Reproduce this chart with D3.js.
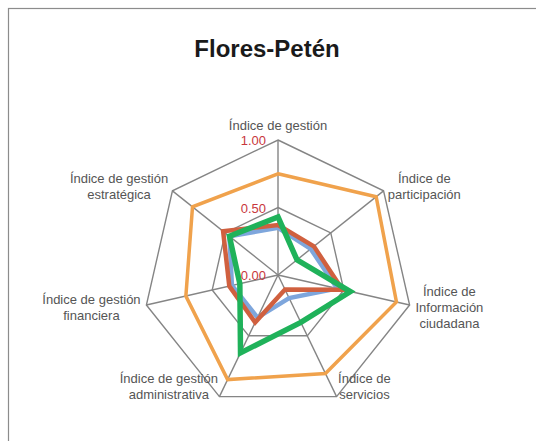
<!DOCTYPE html>
<html>
<head>
<meta charset="utf-8">
<script src="https://cdn.jsdelivr.net/npm/d3@7"></script>
<style>
  body { margin: 0; background: #fff; }
  text { font-family: "Liberation Sans", Arial, sans-serif; }
</style>
</head>
<body>
<div id="chart"></div>
<script>
// Axes of the radar, clockwise from the top
var axes = [
    ["Índice de gestión"],
    ["Índice de", "participación"],
    ["Índice de", "Información", "ciudadana"],
    ["Índice de", "servicios"],
    ["Índice de gestión", "administrativa"],
    ["Índice de gestión", "financiera"],
    ["Índice de gestión", "estratégica"]
];

// Series values, same order as the axes
var serie_azul    = [0.35, 0.31, 0.45, 0.19, 0.35, 0.35, 0.46];
var serie_roja    = [0.37, 0.34, 0.49, 0.12, 0.39, 0.37, 0.52];
var serie_naranja = [0.75, 0.93, 0.90, 0.81, 0.86, 0.70, 0.81];
var serie_verde   = [0.43, 0.18, 0.55, 0.39, 0.64, 0.29, 0.46];

var tick_values = [0, 0.5, 1];
var title = "Flores-Petén";

var width = 536,
    height = 441,
    cx = 278,
    cy = 275,
    radius = 135;

var series = [
    { values: serie_azul,    color: "#7ea6dc", width: 4.5 },
    { values: serie_roja,    color: "#d0603f", width: 4.5 },
    { values: serie_naranja, color: "#f0a24c", width: 3.5 },
    { values: serie_verde,   color: "#1fb25a", width: 5.5 }
];

var svg = d3.select("#chart").append("svg")
    .attr("width", width)
    .attr("height", height);

//Outer frame (only top and left visible)
svg.append("rect")
    .attr("x", 8.5)
    .attr("y", 8.5)
    .attr("width", width + 20)
    .attr("height", height + 20)
    .attr("fill", "none")
    .attr("stroke", "#8c8c8c")
    .attr("stroke-width", 1.2);

svg.append("text")
    .attr("x", width / 2 - 1)
    .attr("y", 57)
    .attr("text-anchor", "middle")
    .style("font-size", "24px")
    .style("font-weight", "bold")
    .style("fill", "#1a1a1a")
    .text(title);

var r = d3.scaleLinear().domain([0, 1]).range([0, radius]);
var angle = d3.scaleLinear().domain([0, axes.length]).range([0, 2 * Math.PI]);

function point(i, v) {
    var a = angle(i);
    return [cx + r(v) * Math.sin(a), cy - r(v) * Math.cos(a)];
}

var g = svg.append("g");

//Rings
tick_values.filter(function(t) { return t > 0; }).forEach(function(t) {
    g.append("polygon")
        .attr("points", axes.map(function(d, i) { return point(i, t).join(","); }).join(" "))
        .attr("fill", "none")
        .attr("stroke", "#858585")
        .attr("stroke-width", 1.4);
});

//Spokes
g.selectAll(".spoke")
    .data(axes)
    .enter().append("line")
    .attr("class", "spoke")
    .attr("x1", cx)
    .attr("y1", cy)
    .attr("x2", function(d, i) { return point(i, 1)[0]; })
    .attr("y2", function(d, i) { return point(i, 1)[1]; })
    .attr("stroke", "#858585")
    .attr("stroke-width", 1.4);

//Series
var line = d3.line()
    .x(function(d, i) { return point(i, d)[0]; })
    .y(function(d, i) { return point(i, d)[1]; })
    .curve(d3.curveLinearClosed);

series.forEach(function(s) {
    svg.append("path")
        .attr("d", line(s.values))
        .attr("fill", "none")
        .attr("stroke", s.color)
        .attr("stroke-width", s.width)
        .attr("stroke-linejoin", "miter");
});

//Tick labels on the first axis
svg.selectAll(".tick-label")
    .data(tick_values)
    .enter().append("text")
    .attr("class", "tick-label")
    .attr("x", cx - 12)
    .attr("y", function(d) { return cy - r(d) + 5; })
    .attr("text-anchor", "end")
    .style("font-size", "13px")
    .style("fill", "#c8373c")
    .text(function(d) { return d3.format(".2f")(d); });

//Axis labels
var lineHeight = 16;
axes.forEach(function(lines, i) {
    var a = angle(i),
        s = Math.sin(a),
        c = Math.cos(a),
        px = cx + (radius + 8) * s,
        py = cy - (radius + 8) * c;

    var t = svg.append("text")
        .attr("text-anchor", "middle")
        .style("font-size", "13px")
        .style("fill", "#555");

    lines.forEach(function(l, k) {
        t.append("tspan")
            .attr("x", 0)
            .attr("y", k * lineHeight)
            .text(l);
    });

    var w = t.node().getBBox().width,
        x, y;
    if (Math.abs(s) < 0.1) {
        x = px;
        y = py - 2;
    } else {
        x = s > 0 ? px + w / 2 - 2 : px - w / 2 + 2;
        y = py - (lines.length - 1) * lineHeight / 2 + 5.5;
        if (c < -0.5) { y -= 18; }
    }
    t.attr("transform", "translate(" + x + "," + y + ")");
});
</script>
</body>
</html>
